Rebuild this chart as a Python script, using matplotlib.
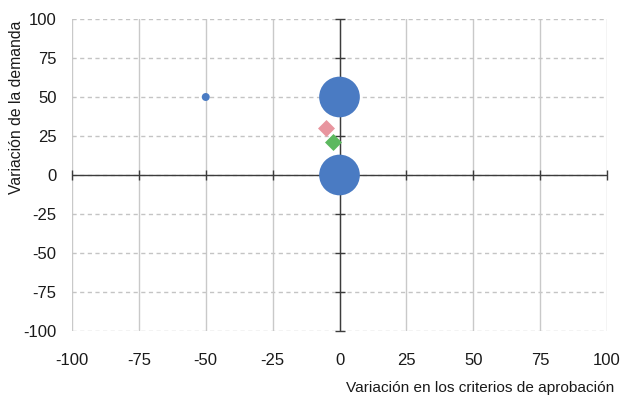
import matplotlib
matplotlib.use("Agg")
import matplotlib.pyplot as plt

plt.rcParams['font.family'] = ['Liberation Sans', 'DejaVu Sans']
plt.rcParams['axes.unicode_minus'] = False

# Bubble data: (x change in approval criteria, y change in demand, bubble weight)
circle_x = [-50, 0, 0]
circle_y = [50, 50, 0]
circle_w = [1, 26, 26]

pink_x, pink_y = [-5], [30]
green_x, green_y = [-2.5], [21]

ticks = [-100, -75, -50, -25, 0, 25, 50, 75, 100]

fig = plt.figure(figsize=(6.23, 3.99), dpi=100)
ax = fig.add_axes([72/623, 1-331/399, 535/623, 312/399])

ax.set_xlim(-100, 100)
ax.set_ylim(-100, 100)
ax.set_xticks(ticks)
ax.set_yticks(ticks)
for s in ax.spines.values():
    s.set_visible(False)
ax.tick_params(length=0, labelsize=12, colors='#1a1a1a')
ax.tick_params(axis='x', pad=16)
ax.tick_params(axis='y', pad=11)

# grid: solid verticals, dashed horizontals
for t in ticks:
    ax.axvline(t, color='#c9c9c9', lw=1.0, zorder=0)
    ax.axhline(t, color='#c4c4c4', lw=1.0, ls=(0, (3, 2.5)), zorder=0)

# zero axes with crossing tick marks
ax.axhline(0, color='#3c3c3c', lw=1.0, zorder=1)
ax.axvline(0, color='#3c3c3c', lw=1.0, zorder=1)
ax.plot(ticks, [0]*len(ticks), ls='none', marker='|', ms=7, mew=1.0, color='#3c3c3c', zorder=1, clip_on=False)
ax.plot([0]*len(ticks), ticks, ls='none', marker='_', ms=7, mew=1.0, color='#3c3c3c', zorder=1, clip_on=False)

ax.scatter(circle_x, circle_y, s=[w*33 for w in circle_w], color='#4a7bc3', zorder=3, linewidths=0)
ax.scatter(pink_x, pink_y, s=75, marker='D', color='#e8959f', zorder=3, linewidths=0)
ax.scatter(green_x, green_y, s=75, marker='D', color='#5cb85f', zorder=3, linewidths=0)

fig.text(17/623, 1-107/399, 'Variación de la demanda', fontsize=11.3, color='#1a1a1a',
         rotation=90, ha='center', va='center')
fig.text(614/623, 1-388/399, 'Variación en los criterios de aprobación', fontsize=11.1,
         color='#1a1a1a', ha='right', va='center')

fig.savefig('out.png', dpi=100)
